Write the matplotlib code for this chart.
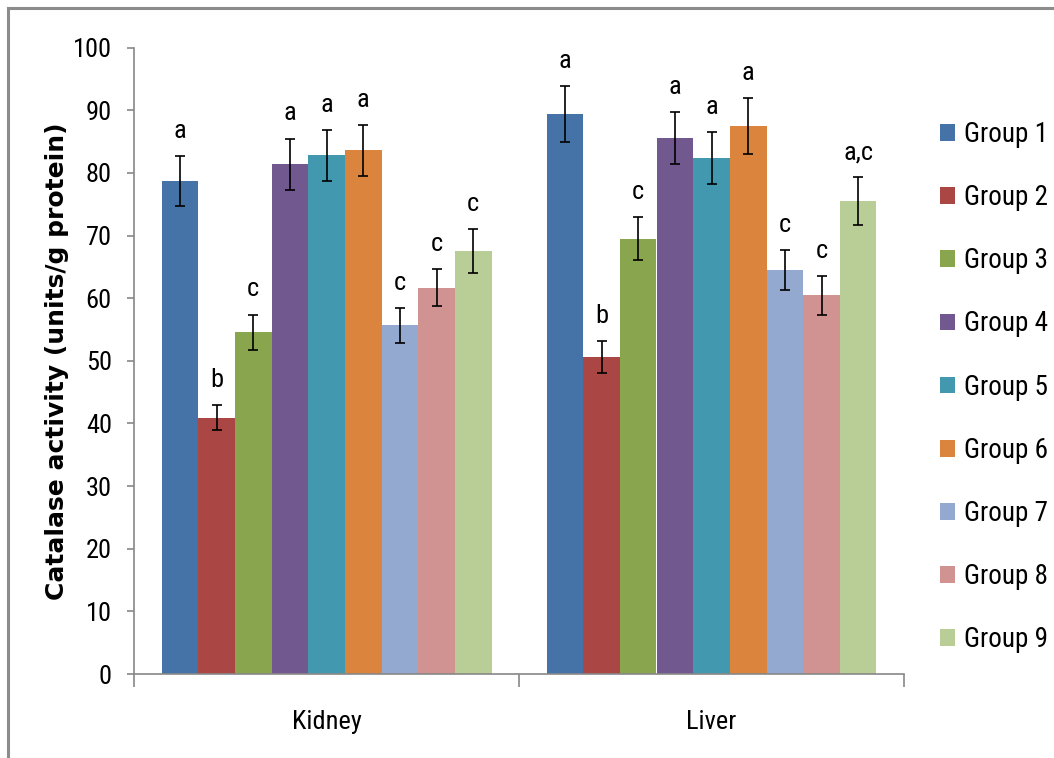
import matplotlib
matplotlib.use("Agg")
import matplotlib.pyplot as plt
from matplotlib import font_manager
from matplotlib.lines import Line2D
import numpy as np

organs = ["Kidney", "Liver"]
groups = ["Group 1", "Group 2", "Group 3", "Group 4", "Group 5",
          "Group 6", "Group 7", "Group 8", "Group 9"]

kidney_mean = [78.7, 40.9, 54.6, 81.4, 82.8, 83.6, 55.7, 61.7, 67.6]
kidney_err = [4.0, 2.0, 2.8, 4.1, 4.1, 4.1, 2.8, 3.0, 3.5]
kidney_sig = ["a", "b", "c", "a", "a", "a", "c", "c", "c"]

liver_mean = [89.4, 50.6, 69.5, 85.6, 82.4, 87.5, 64.5, 60.5, 75.5]
liver_err = [4.5, 2.5, 3.4, 4.2, 4.1, 4.4, 3.2, 3.1, 3.8]
liver_sig = ["a", "b", "c", "a", "a", "a", "c", "c", "a,c"]

colors = ["#4572A7", "#AA4643", "#89A54E", "#71588F", "#4198AF",
          "#DB843D", "#93A9CF", "#D19392", "#B9CD96"]

# pick a narrow font if one is around, Lato otherwise
fonts = font_manager.fontManager.ttflist
names = {f.name for f in fonts}
narrow = False
for cand in ["Liberation Sans Narrow", "Roboto Condensed", "Open Sans Condensed",
             "Noto Sans Condensed"]:
    if cand in names:
        plt.rcParams["font.family"] = [cand, "DejaVu Sans"]
        narrow = True
        break
if not narrow:
    if any(f.name == "DejaVu Sans" and f.stretch == "condensed" for f in fonts):
        plt.rcParams["font.family"] = ["DejaVu Sans"]
        plt.rcParams["font.stretch"] = "condensed"
        narrow = True
    else:
        plt.rcParams["font.family"] = ["Lato", "DejaVu Sans"]

fs = 19 if narrow else 16.5
leg_fs = 19.5 if narrow else 16.5

fig = plt.figure(figsize=(10.54, 7.58), dpi=100)
ax = fig.add_axes([134 / 1054, 1 - 674 / 758, 770 / 1054, (674 - 47.7) / 758])

means = np.array([kidney_mean, liver_mean])
errs = np.array([kidney_err, liver_err])
sigs = [kidney_sig, liver_sig]

x = np.arange(len(organs))
width = 1 / 10.5
for i, g in enumerate(groups):
    pos = x + (i - 4) * width
    ax.bar(pos, means[:, i], width, color=colors[i], label=g, zorder=2)
    ax.errorbar(pos, means[:, i], yerr=errs[:, i], fmt="none", ecolor="black",
                elinewidth=1.2, capsize=3.5, capthick=1.2, zorder=3)
    for j in range(len(organs)):
        ax.annotate(sigs[j][i], (pos[j], means[j, i] + errs[j, i]),
                    xytext=(0, 13), textcoords="offset points",
                    ha="center", va="baseline", fontsize=fs)

ax.set_xlim(-0.5, 1.5)
ax.set_ylim(0, 100)
ax.set_yticks(range(0, 101, 10))
ax.set_xticks(x)
ax.set_xticklabels(organs)
ax.set_xticks([-0.5, 0.5, 1.5], minor=True)
ax.tick_params(axis="x", which="major", length=0, pad=26, labelsize=fs)
ax.tick_params(axis="x", which="minor", length=9, color="#888888", width=1.2)
ax.tick_params(axis="y", length=5, color="#888888", width=1.2, pad=11,
               labelsize=fs)
for side in ["top", "right"]:
    ax.spines[side].set_visible(False)
for side in ["left", "bottom"]:
    ax.spines[side].set_color("#888888")
    ax.spines[side].set_linewidth(1.2)

ax.set_ylabel("Catalase activity (units/g protein)", family="DejaVu Sans",
              fontstretch="normal", fontweight="bold", fontsize=18)
ax.yaxis.set_label_coords((69 - 134) / 770, 0.5)

fig.legend(loc="upper left", bbox_to_anchor=(940 / 1054, 1 - 121 / 758),
           frameon=False, fontsize=leg_fs, handlelength=0.57, handleheight=0.57,
           handletextpad=0.3, labelspacing=1.335, borderpad=0,
           borderaxespad=0)

# outer chart frame (left and top edges visible)
fig.add_artist(Line2D([8 / 1054, 8 / 1054], [0, 1 - 8 / 758],
                      transform=fig.transFigure, color="#8c8c8c", lw=2.2))
fig.add_artist(Line2D([8 / 1054, 1], [1 - 8 / 758, 1 - 8 / 758],
                      transform=fig.transFigure, color="#8c8c8c", lw=2.2))

fig.savefig("out.png", dpi=100)
